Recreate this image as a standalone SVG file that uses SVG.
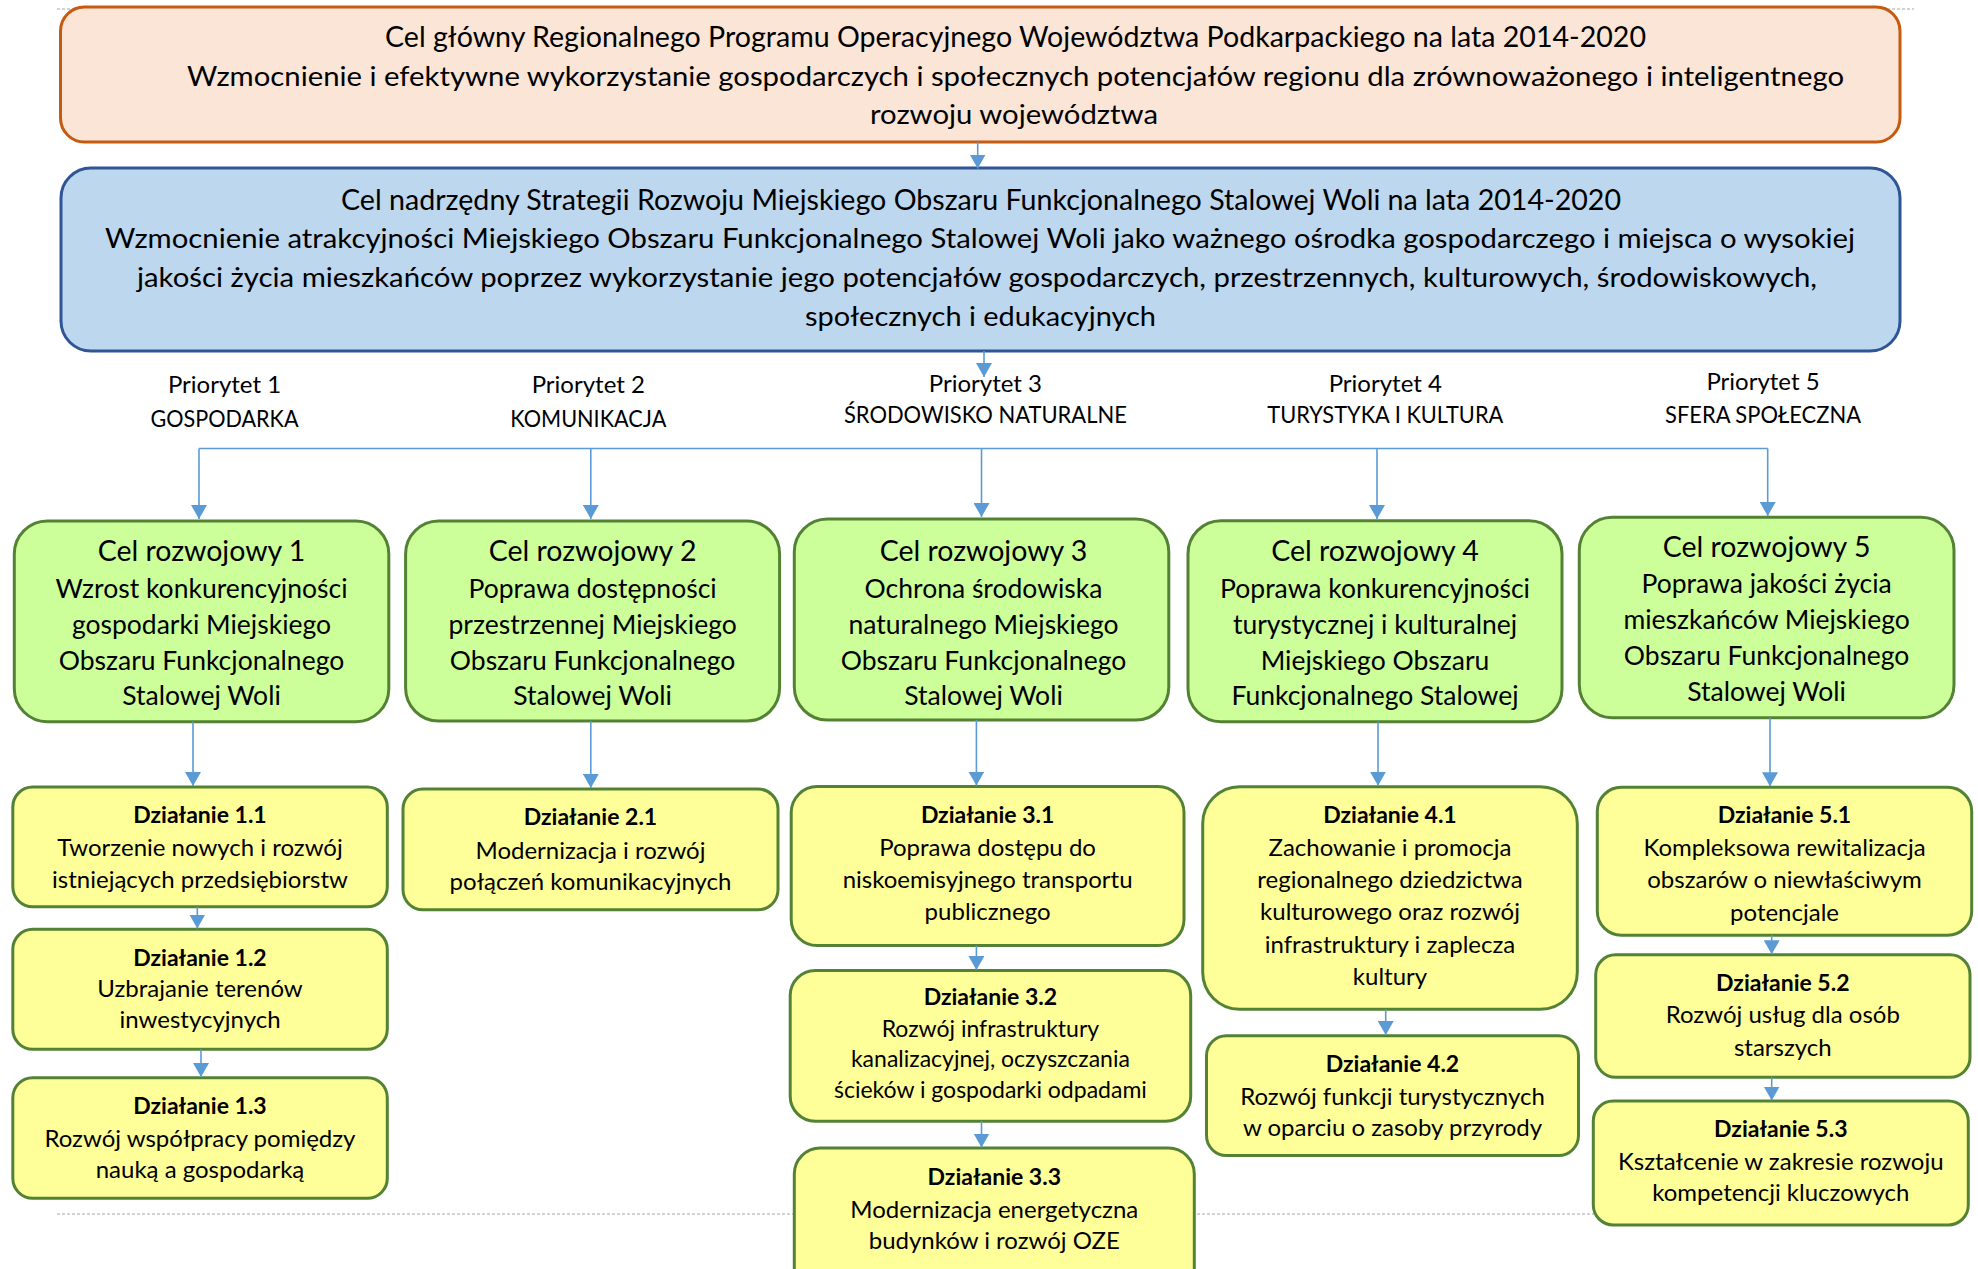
<svg xmlns="http://www.w3.org/2000/svg" width="1978" height="1269" viewBox="0 0 1978 1269">
<style>
text{font-family:Lato,"Liberation Sans",sans-serif;fill:#000;text-anchor:middle}
.hd{font-size:27px}
.h1{font-size:28px}
.pr{font-size:24px}
.gt{font-size:28.5px}
.gb{font-size:26.5px}
.yt{font-size:23px;font-weight:bold}
.yb{font-size:24px}
.ys{font-size:23px}
.green{fill:#CCFF99;stroke:#548235;stroke-width:3}
.yellow{fill:#FFFF99;stroke:#548235;stroke-width:3}
.conn path{fill:none;stroke:#5B9BD5;stroke-width:1.6}
.arr{marker-end:url(#ah)}
.dash{stroke:#A6A6A6;stroke-width:1.2;stroke-dasharray:3 2;fill:none}
</style>
<defs>
<marker id="ah" viewBox="0 0 14 16" refX="14" refY="8" markerWidth="14" markerHeight="16" markerUnits="userSpaceOnUse" orient="auto">
<path d="M0,0 L14,8 L0,16 z" fill="#5B9BD5"/>
</marker>
</defs>
<path class="dash" d="M57,9 H1914 M57,1214 H1914"/>
<g id="cel-glowny">
<rect x="60.5" y="7" width="1839.5" height="135" rx="24" fill="#FBE5D6" stroke="#C55A11" stroke-width="3"/>
<text class="h1" x="1015.5" y="47" textLength="1261" lengthAdjust="spacingAndGlyphs">Cel główny Regionalnego Programu Operacyjnego Województwa Podkarpackiego na lata 2014-2020</text>
<text class="hd" x="1015.5" y="86" textLength="1657" lengthAdjust="spacingAndGlyphs">Wzmocnienie i efektywne wykorzystanie gospodarczych i społecznych potencjałów regionu dla zrównoważonego i inteligentnego</text>
<text class="hd" x="1014" y="124" textLength="288" lengthAdjust="spacingAndGlyphs">rozwoju województwa</text>
</g>
<g id="cel-nadrzedny">
<rect x="61" y="168" width="1839" height="183" rx="30" fill="#BDD7EE" stroke="#2F5597" stroke-width="3"/>
<text class="h1" x="981" y="209.5" textLength="1280" lengthAdjust="spacingAndGlyphs">Cel nadrzędny Strategii Rozwoju Miejskiego Obszaru Funkcjonalnego Stalowej Woli na lata 2014-2020</text>
<text class="hd" x="980" y="248" textLength="1750" lengthAdjust="spacingAndGlyphs">Wzmocnienie atrakcyjności Miejskiego Obszaru Funkcjonalnego Stalowej Woli jako ważnego ośrodka gospodarczego i miejsca o wysokiej</text>
<text class="hd" x="977" y="287" textLength="1680" lengthAdjust="spacingAndGlyphs">jakości życia mieszkańców poprzez wykorzystanie jego potencjałów gospodarczych, przestrzennych, kulturowych, środowiskowych,</text>
<text class="hd" x="980.5" y="326" textLength="351" lengthAdjust="spacingAndGlyphs">społecznych i edukacyjnych</text>
</g>
<g id="priorytet-1"><text class="pr" x="224.5" y="393.3">Priorytet 1</text><text class="pr" x="224.5" y="426.7" textLength="148" lengthAdjust="spacingAndGlyphs">GOSPODARKA</text></g>
<g id="priorytet-2"><text class="pr" x="588.3" y="393.3">Priorytet 2</text><text class="pr" x="588.3" y="426.7" textLength="156" lengthAdjust="spacingAndGlyphs">KOMUNIKACJA</text></g>
<g id="priorytet-3"><text class="pr" x="985.4" y="391.7">Priorytet 3</text><text class="pr" x="985.4" y="423.3" textLength="283" lengthAdjust="spacingAndGlyphs">ŚRODOWISKO NATURALNE</text></g>
<g id="priorytet-4"><text class="pr" x="1385.3" y="391.7">Priorytet 4</text><text class="pr" x="1385.3" y="423.3" textLength="236" lengthAdjust="spacingAndGlyphs">TURYSTYKA I KULTURA</text></g>
<g id="priorytet-5"><text class="pr" x="1763" y="390">Priorytet 5</text><text class="pr" x="1763" y="422.7" textLength="196" lengthAdjust="spacingAndGlyphs">SFERA SPOŁECZNA</text></g>
<g id="cel-rozwojowy-1">
<rect class="green" x="14.3" y="521" width="374.5" height="200.7" rx="33"/>
<text class="gt" x="201.5" y="561">Cel rozwojowy 1</text>
<text class="gb" x="201.5" y="597.5">Wzrost konkurencyjności</text>
<text class="gb" x="201.5" y="633.5">gospodarki Miejskiego</text>
<text class="gb" x="201.5" y="669.5">Obszaru Funkcjonalnego</text>
<text class="gb" x="201.5" y="705">Stalowej Woli</text>
</g>
<g id="cel-rozwojowy-2">
<rect class="green" x="405.6" y="521" width="374" height="200" rx="33"/>
<text class="gt" x="592.6" y="561">Cel rozwojowy 2</text>
<text class="gb" x="592.6" y="597.5">Poprawa dostępności</text>
<text class="gb" x="592.6" y="633.5">przestrzennej Miejskiego</text>
<text class="gb" x="592.6" y="669.5">Obszaru Funkcjonalnego</text>
<text class="gb" x="592.6" y="705">Stalowej Woli</text>
</g>
<g id="cel-rozwojowy-3">
<rect class="green" x="794.3" y="519" width="374.5" height="201" rx="33"/>
<text class="gt" x="983.5" y="561">Cel rozwojowy 3</text>
<text class="gb" x="983.5" y="597.5">Ochrona środowiska</text>
<text class="gb" x="983.5" y="633.5">naturalnego Miejskiego</text>
<text class="gb" x="983.5" y="669.5">Obszaru Funkcjonalnego</text>
<text class="gb" x="983.5" y="705">Stalowej Woli</text>
</g>
<g id="cel-rozwojowy-4">
<rect class="green" x="1188" y="520.7" width="374" height="201" rx="33"/>
<text class="gt" x="1375" y="561">Cel rozwojowy 4</text>
<text class="gb" x="1375" y="597.5">Poprawa konkurencyjności</text>
<text class="gb" x="1375" y="633.5">turystycznej i kulturalnej</text>
<text class="gb" x="1375" y="669.5">Miejskiego Obszaru</text>
<text class="gb" x="1375" y="705">Funkcjonalnego Stalowej</text>
</g>
<g id="cel-rozwojowy-5">
<rect class="green" x="1579.3" y="517.3" width="374.7" height="200.4" rx="33"/>
<text class="gt" x="1766.6" y="557.3">Cel rozwojowy 5</text>
<text class="gb" x="1766.6" y="593.3">Poprawa jakości życia</text>
<text class="gb" x="1766.6" y="629">mieszkańców Miejskiego</text>
<text class="gb" x="1766.6" y="665">Obszaru Funkcjonalnego</text>
<text class="gb" x="1766.6" y="701">Stalowej Woli</text>
</g>
<g id="dzialanie-1-1">
<rect class="yellow" x="12.8" y="787" width="374.5" height="119.8" rx="20"/>
<text class="yt" x="200" y="823">Działanie 1.1</text>
<text class="yb" x="200" y="856.4">Tworzenie nowych i rozwój</text>
<text class="yb" x="200" y="887.8">istniejących przedsiębiorstw</text>
</g>
<g id="dzialanie-1-2">
<rect class="yellow" x="12.8" y="929.3" width="374.5" height="120" rx="20"/>
<text class="yt" x="200" y="966">Działanie 1.2</text>
<text class="yb" x="200" y="997.3">Uzbrajanie terenów</text>
<text class="yb" x="200" y="1028.3">inwestycyjnych</text>
</g>
<g id="dzialanie-1-3">
<rect class="yellow" x="12.8" y="1077.7" width="374.5" height="120.6" rx="20"/>
<text class="yt" x="200" y="1114">Działanie 1.3</text>
<text class="yb" x="200" y="1147.3">Rozwój współpracy pomiędzy</text>
<text class="yb" x="200" y="1178.3">nauką a gospodarką</text>
</g>
<g id="dzialanie-2-1">
<rect class="yellow" x="403" y="789" width="375" height="120.8" rx="20"/>
<text class="yt" x="590.5" y="825">Działanie 2.1</text>
<text class="yb" x="590.5" y="858.7">Modernizacja i rozwój</text>
<text class="yb" x="590.5" y="889.6">połączeń komunikacyjnych</text>
</g>
<g id="dzialanie-3-1">
<rect class="yellow" x="791.2" y="786.6" width="392.8" height="159" rx="26"/>
<text class="yt" x="987.6" y="823">Działanie 3.1</text>
<text class="yb" x="987.6" y="856.4">Poprawa dostępu do</text>
<text class="yb" x="987.6" y="888">niskoemisyjnego transportu</text>
<text class="yb" x="987.6" y="919.9">publicznego</text>
</g>
<g id="dzialanie-3-2">
<rect class="yellow" x="790.2" y="970.5" width="400.5" height="150.7" rx="25"/>
<text class="yt" x="990.4" y="1004.6">Działanie 3.2</text>
<text class="ys" x="990.4" y="1036.8">Rozwój infrastruktury</text>
<text class="ys" x="990.4" y="1067.3">kanalizacyjnej, oczyszczania</text>
<text class="ys" x="990.4" y="1097.7">ścieków i gospodarki odpadami</text>
</g>
<g id="dzialanie-3-3">
<rect class="yellow" x="794.3" y="1148" width="400" height="160" rx="26"/>
<text class="yt" x="994.3" y="1184.5">Działanie 3.3</text>
<text class="yb" x="994.3" y="1217.5">Modernizacja energetyczna</text>
<text class="yb" x="994.3" y="1249">budynków i rozwój OZE</text>
</g>
<g id="dzialanie-4-1">
<rect class="yellow" x="1202.7" y="786.7" width="374.6" height="222.6" rx="37"/>
<text class="yt" x="1390" y="823.3">Działanie 4.1</text>
<text class="yb" x="1390" y="856">Zachowanie i promocja</text>
<text class="yb" x="1390" y="888">regionalnego dziedzictwa</text>
<text class="yb" x="1390" y="920">kulturowego oraz rozwój</text>
<text class="yb" x="1390" y="952.5">infrastruktury i zaplecza</text>
<text class="yb" x="1390" y="985">kultury</text>
</g>
<g id="dzialanie-4-2">
<rect class="yellow" x="1206.5" y="1035.7" width="372" height="119.9" rx="20"/>
<text class="yt" x="1392.5" y="1072.3">Działanie 4.2</text>
<text class="yb" x="1392.5" y="1105">Rozwój funkcji turystycznych</text>
<text class="yb" x="1392.5" y="1136.4">w oparciu o zasoby przyrody</text>
</g>
<g id="dzialanie-5-1">
<rect class="yellow" x="1597.3" y="787.3" width="374.4" height="147.9" rx="24"/>
<text class="yt" x="1784.5" y="823.3">Działanie 5.1</text>
<text class="yb" x="1784.5" y="856.4">Kompleksowa rewitalizacja</text>
<text class="yb" x="1784.5" y="888.4">obszarów o niewłaściwym</text>
<text class="yb" x="1784.5" y="920.5">potencjale</text>
</g>
<g id="dzialanie-5-2">
<rect class="yellow" x="1595.7" y="954.8" width="374.3" height="122.5" rx="20"/>
<text class="yt" x="1782.8" y="991.3">Działanie 5.2</text>
<text class="yb" x="1782.8" y="1023.4">Rozwój usług dla osób</text>
<text class="yb" x="1782.8" y="1056.4">starszych</text>
</g>
<g id="dzialanie-5-3">
<rect class="yellow" x="1593.3" y="1101" width="375" height="124" rx="20"/>
<text class="yt" x="1780.8" y="1137.4">Działanie 5.3</text>
<text class="yb" x="1780.8" y="1170.1">Kształcenie w zakresie rozwoju</text>
<text class="yb" x="1780.8" y="1200.9">kompetencji kluczowych</text>
</g>
<g id="connectors" class="conn">
<path class="arr" d="M977.7,142 V168.5"/>
<path class="arr" d="M984,351 V377"/>
<path d="M199,448.5 H1767.7"/>
<path class="arr" d="M199,448.5 V519"/>
<path class="arr" d="M590.8,448.5 V519"/>
<path class="arr" d="M981.5,448.5 V517"/>
<path class="arr" d="M1377,448.5 V519"/>
<path class="arr" d="M1767.7,448.5 V516"/>
<path class="arr" d="M193,721.7 V786"/>
<path class="arr" d="M590.8,721 V788"/>
<path class="arr" d="M976.4,720 V785.6"/>
<path class="arr" d="M1378,721.7 V785.7"/>
<path class="arr" d="M1770,717.7 V786.3"/>
<path class="arr" d="M197.3,906.8 V928.5"/>
<path class="arr" d="M201,1049.3 V1077"/>
<path class="arr" d="M976.4,945.6 V970"/>
<path class="arr" d="M981.5,1121.2 V1147.5"/>
<path class="arr" d="M1385.7,1009.3 V1035"/>
<path class="arr" d="M1771.7,935.2 V954.3"/>
<path class="arr" d="M1771.7,1077.3 V1100.5"/>
</g>
</svg>
